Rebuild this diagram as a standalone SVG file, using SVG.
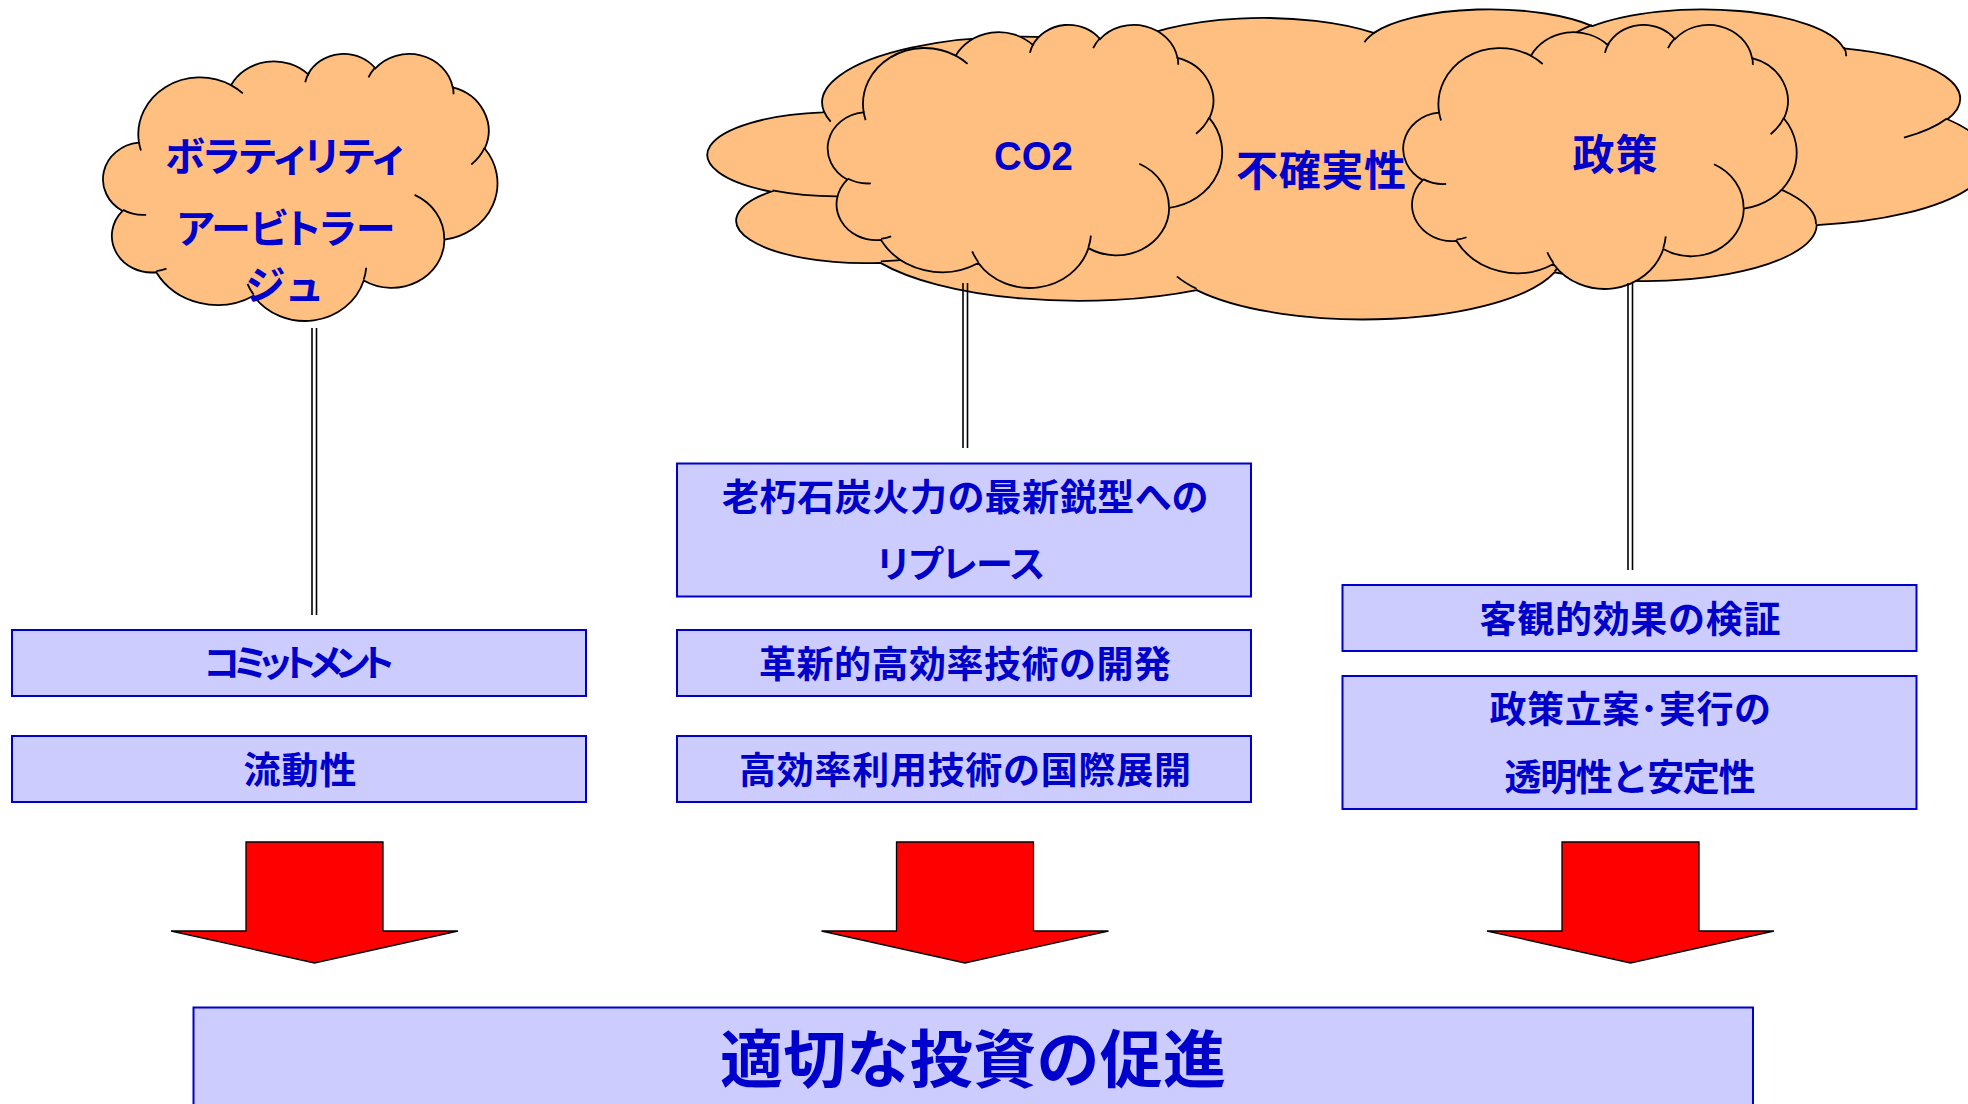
<svg xmlns="http://www.w3.org/2000/svg" width="1968" height="1104" viewBox="0 0 1968 1104">
<style>
  .cloud { fill: #FFBF80; stroke: #000000; stroke-width: 1.8; }
  .crease { fill: none; stroke: #000000; stroke-width: 1.8; }
  .box { fill: #CCCCFF; stroke: #0000CC; stroke-width: 2; }
  .arrow { fill: #FF0000; stroke: #000000; stroke-width: 1.3; stroke-linejoin: miter; }
  .wire { stroke: #000000; stroke-width: 1.6; fill: none; }
  .t { font-family: "Noto Sans CJK JP", sans-serif; font-weight: bold; fill: #0000CC; text-anchor: middle; }
  .lat { font-family: "Liberation Sans", "Noto Sans CJK JP", sans-serif; font-weight: bold; fill: #0000CC; text-anchor: middle; }
  .palt { font-feature-settings: "palt"; }
  .bt { font-size: 37px; }
  .ct { font-size: 42px; }
  .lt { font-size: 40px; }
</style>
<defs>
  <path id="cloudOuter" vector-effect="non-scaling-stroke" d="M3900 14370 A6753 9190 0 0 1 14004.6 5201.8 A5333 7267 0 0 1 22455.3 3433 A4365 5945 0 0 1 29832.2 2481 A4857 6595 0 0 1 38317.7 5575.6 A5333 7273 0 0 1 41818.1 15459.3 A6775 9220 0 0 1 37405.4 30204.7 A5785 7867 0 0 1 28556.7 36814.8 A6752 9215 0 0 1 16481.6 39267.6 A7720 10543 0 0 1 5805.6 35472.3 A4360 5918 0 0 1 2113.3 25552.3 A4345 5945 0 0 1 3862.9 14508.4 Z"/>
  <path id="cloudInner" vector-effect="non-scaling-stroke" fill="none" d="M4693 26177 A4345 5945 0 0 1 2160.1 25380.3 M6928 34899 A4360 5918 0 0 1 5819.5 35280.4 M16478 39090 A6752 9215 0 0 1 15809.7 37349.4 M28827 34751 A6752 9215 0 0 1 28560.5 36659.4 M34129 22954 A5785 7867 0 0 1 37380.5 30089.7 M41798 15354 A5333 7273 0 0 1 40350.2 18029.7 M38324 5426 A4857 6595 0 0 1 38400.4 6689.7 M29078 3952 A4857 6595 0 0 1 29819.6 2340 M22141 4720 A4365 5945 0 0 1 22554.4 3186.3 M14000 5192 A6753 9190 0 0 1 15301 6541.6 M4127 15789 A6753 9190 0 0 1 3900.4 14371.4"/>
</defs>

<rect x="0" y="0" width="1968" height="1104" fill="#FFFFFF"/>

<g id="cloud-volatility">
  <g transform="translate(103.3 53) scale(0.0091204 0.0061806)">
    <use href="#cloudOuter" class="cloud"/>
    <use href="#cloudInner" class="crease"/>
  </g>
  <text class="t lt palt" x="284.5" y="171" textLength="239" lengthAdjust="spacing">ボラティリティ</text>
  <text class="t lt palt" x="286" y="243" textLength="218" lengthAdjust="spacing">アービトラー</text>
  <text class="t lt palt" x="283.5" y="300" textLength="76" lengthAdjust="spacing">ジュ</text>
</g>

<g id="cloud-uncertainty">
  <g transform="translate(708.4 8.3) scale(0.0296296 0.0071759)">
    <use href="#cloudOuter" class="cloud"/>
    <use href="#cloudInner" class="crease"/>
  </g>
  <text class="t ct" x="1321" y="186" textLength="170" lengthAdjust="spacing">不確実性</text>
</g>

<g id="cloud-co2">
  <g transform="translate(828 24) scale(0.0091204 0.006088)">
    <use href="#cloudOuter" class="cloud"/>
    <use href="#cloudInner" class="crease"/>
  </g>
  <text class="lat" font-size="41" x="1033.5" y="170" textLength="79" lengthAdjust="spacingAndGlyphs">CO2</text>
</g>

<g id="cloud-policy">
  <g transform="translate(1403.5 24) scale(0.0090972 0.0061111)">
    <use href="#cloudOuter" class="cloud"/>
    <use href="#cloudInner" class="crease"/>
  </g>
  <text class="t ct" x="1615" y="170" textLength="85" lengthAdjust="spacing">政策</text>
</g>

<g id="connectors">
  <line class="wire" x1="312" y1="328" x2="312" y2="615"/>
  <line class="wire" x1="316.5" y1="328" x2="316.5" y2="615"/>
  <line class="wire" x1="963" y1="283" x2="963" y2="448"/>
  <line class="wire" x1="967.5" y1="283" x2="967.5" y2="448"/>
  <line class="wire" x1="1628" y1="283" x2="1628" y2="570"/>
  <line class="wire" x1="1632.5" y1="283" x2="1632.5" y2="570"/>
</g>

<g id="box-replace">
  <rect class="box" x="677" y="463.5" width="574" height="133"/>
  <text class="t bt palt" x="965" y="510.5" textLength="486" lengthAdjust="spacing">老朽石炭火力の最新鋭型への</text>
  <text class="t bt palt" x="961" y="578" textLength="168" lengthAdjust="spacing">リプレース</text>
</g>
<g id="box-commitment">
  <rect class="box" x="12" y="630" width="574" height="66"/>
  <text class="t bt palt" x="299" y="677" textLength="190" lengthAdjust="spacing">コミットメント</text>
</g>
<g id="box-liquidity">
  <rect class="box" x="12" y="736" width="574" height="66"/>
  <text class="t bt" x="300" y="784" textLength="113" lengthAdjust="spacing">流動性</text>
</g>
<g id="box-innovation">
  <rect class="box" x="677" y="630" width="574" height="66"/>
  <text class="t bt" x="965" y="677.5" textLength="412" lengthAdjust="spacing">革新的高効率技術の開発</text>
</g>
<g id="box-international">
  <rect class="box" x="677" y="736" width="574" height="66"/>
  <text class="t bt" x="965" y="784" textLength="452" lengthAdjust="spacing">高効率利用技術の国際展開</text>
</g>
<g id="box-verification">
  <rect class="box" x="1342.5" y="585" width="574" height="66"/>
  <text class="t bt" x="1630" y="632.5" textLength="301" lengthAdjust="spacing">客観的効果の検証</text>
</g>
<g id="box-transparency">
  <rect class="box" x="1342.5" y="676" width="574" height="133"/>
  <text class="t bt palt" x="1630" y="723" textLength="281" lengthAdjust="spacing">政策立案･実行の</text>
  <text class="t bt" x="1630" y="790.5" textLength="251" lengthAdjust="spacing">透明性と安定性</text>
</g>

<g id="arrow-left">
  <polygon class="arrow" points="246,842 383,842 383,931 458,931 314.5,963 171,931 246,931"/>
</g>
<g id="arrow-middle">
  <polygon class="arrow" points="896.5,842 1033.5,842 1033.5,931 1108.5,931 965,963 821.5,931 896.5,931"/>
</g>
<g id="arrow-right">
  <polygon class="arrow" points="1562,842 1699,842 1699,931 1774,931 1630.5,963 1487,931 1562,931"/>
</g>

<g id="box-investment">
  <rect class="box" x="193.5" y="1007.5" width="1559.5" height="130"/>
  <text class="t" font-size="63" x="973" y="1082" textLength="506" lengthAdjust="spacing">適切な投資の促進</text>
</g>
</svg>
